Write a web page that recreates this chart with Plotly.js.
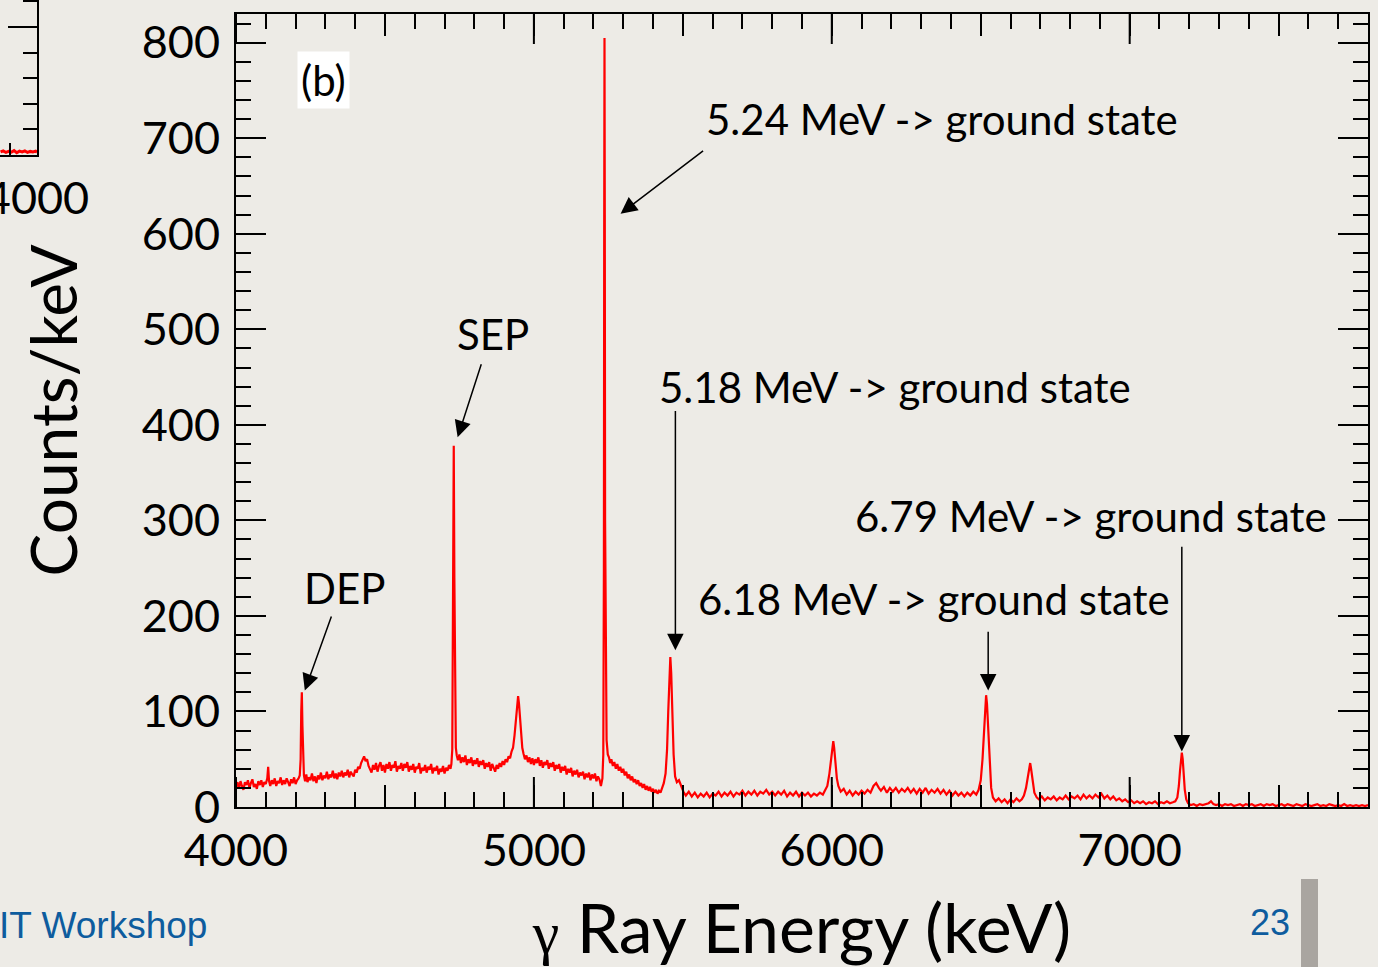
<!DOCTYPE html>
<html>
<head>
<meta charset="utf-8">
<script src="https://cdn.plot.ly/plotly-3.0.1.min.js"></script>
<style>
html,body{margin:0;padding:0;background:#edebe6;overflow:hidden;}
#chart{width:1378px;height:967px;}
</style>
</head>
<body>
<div id="chart"></div>
<script>
// ---- spectrum (b): gamma-ray energy (keV) vs counts/keV ----
const energyKeV = [
  4000,4005,4010,4015,4020,4025,4030,4035,4040,4045,4050,4055,
  4060,4065,4070,4075,4080,4085,4090,4095,4100,4105,4108,4111,
  4115,4120,4125,4130,4135,4140,4145,4150,4155,4160,4165,4170,
  4175,4180,4185,4190,4195,4200,4205,4210,4214,4217,4219,4221,
  4223,4225,4228,4232,4236,4240,4245,4250,4255,4260,4265,4270,
  4275,4280,4285,4290,4295,4300,4305,4310,4315,4320,4325,4330,
  4335,4340,4345,4350,4355,4360,4365,4370,4375,4380,4385,4390,
  4395,4400,4405,4410,4415,4420,4425,4430,4435,4440,4445,4450,
  4455,4460,4465,4470,4475,4480,4485,4490,4495,4500,4505,4510,
  4515,4520,4525,4530,4535,4540,4545,4550,4555,4560,4565,4570,
  4575,4580,4585,4590,4595,4600,4605,4610,4615,4620,4625,4630,
  4635,4640,4645,4650,4655,4660,4665,4670,4675,4680,4685,4690,
  4695,4700,4705,4710,4715,4720,4723,4726,4729,4731,4733,4735,
  4738,4741,4745,4750,4755,4760,4765,4770,4775,4780,4785,4790,
  4795,4800,4805,4810,4815,4820,4825,4830,4835,4840,4845,4850,
  4855,4860,4865,4870,4875,4880,4885,4890,4895,4900,4905,4910,
  4915,4920,4925,4930,4935,4940,4944,4947,4950,4953,4957,4961,
  4965,4970,4975,4980,4985,4990,4995,5000,5005,5010,5015,5020,
  5025,5030,5035,5040,5045,5050,5055,5060,5065,5070,5075,5080,
  5085,5090,5095,5100,5105,5110,5115,5120,5125,5130,5135,5140,
  5145,5150,5155,5160,5165,5170,5175,5180,5185,5190,5195,5200,
  5205,5210,5215,5220,5225,5230,5233,5235,5236,5237,5238,5239,
  5241,5244,5248,5252,5256,5260,5265,5270,5275,5280,5285,5290,
  5295,5300,5305,5310,5315,5320,5325,5330,5335,5340,5345,5350,
  5355,5360,5365,5370,5375,5380,5385,5390,5395,5400,5405,5410,
  5415,5420,5425,5430,5436,5442,5447,5451,5455,5458,5461,5465,
  5469,5474,5480,5487,5494,5502,5510,5520,5530,5540,5550,5560,
  5570,5580,5590,5600,5610,5620,5630,5640,5650,5660,5670,5680,
  5690,5700,5710,5720,5730,5740,5750,5760,5770,5780,5790,5800,
  5810,5820,5830,5840,5850,5860,5870,5880,5890,5900,5910,5920,
  5930,5940,5950,5960,5970,5978,5985,5992,5998,6002,6005,6008,
  6012,6017,6022,6030,6040,6050,6060,6070,6080,6090,6100,6110,
  6120,6130,6140,6149,6158,6165,6175,6185,6195,6205,6215,6225,
  6235,6245,6255,6265,6275,6285,6295,6305,6315,6325,6335,6345,
  6355,6365,6375,6385,6395,6405,6415,6425,6435,6445,6455,6465,
  6475,6485,6493,6500,6506,6511,6515,6518,6521,6525,6530,6535,
  6541,6550,6560,6570,6580,6590,6600,6610,6620,6630,6638,6645,
  6652,6658,6663,6666,6669,6674,6680,6688,6695,6705,6715,6725,
  6735,6745,6755,6765,6775,6785,6795,6805,6815,6825,6835,6845,
  6855,6865,6875,6885,6895,6905,6915,6925,6935,6945,6955,6965,
  6975,6985,6995,7005,7015,7025,7035,7045,7055,7065,7075,7085,
  7095,7105,7115,7125,7135,7145,7153,7160,7165,7169,7172,7175,
  7178,7181,7185,7190,7196,7205,7215,7225,7235,7245,7255,7265,
  7273,7281,7290,7300,7310,7320,7330,7340,7350,7360,7370,7380,
  7390,7400,7410,7420,7430,7440,7450,7460,7470,7480,7490,7500,
  7510,7520,7530,7540,7550,7560,7570,7580,7590,7600,7610,7620,
  7630,7640,7650,7660,7670,7680,7690,7700,7710,7720,7730,7740,
  7750,7760,7770,7780,7790,7800
];
const countsPerKeV = [
  21,26,19,27,22,18,26,23,28,20,25,29,
  21,24,19,27,23,28,21,26,24,30,42,27,
  22,28,24,30,22,27,25,31,23,28,24,30,
  26,22,29,25,31,24,28,30,33,50,100,120,
  85,45,33,27,34,26,31,28,35,27,32,25,
  33,29,36,28,33,30,37,29,34,31,38,30,
  35,29,36,32,38,31,36,33,39,31,37,34,
  32,39,36,42,40,46,49,53,48,50,43,40,
  36,44,39,46,37,43,47,38,44,36,45,40,
  47,38,44,41,48,37,43,40,46,38,45,41,
  47,37,43,39,45,36,42,40,46,35,41,38,
  44,36,42,39,45,35,41,38,43,34,40,37,
  43,35,41,38,44,40,45,60,210,378,240,110,
  62,54,49,55,46,52,47,54,44,50,46,52,
  43,49,45,51,42,48,44,49,40,46,42,47,
  38,45,41,37,44,40,46,42,48,44,50,47,
  53,51,58,62,75,92,108,116,108,95,78,62,
  56,50,54,47,52,45,51,44,50,46,52,43,
  49,41,47,44,49,40,46,42,47,38,44,40,
  45,36,42,38,43,34,40,36,41,32,38,34,
  39,31,36,33,37,29,35,31,36,28,34,30,
  35,27,32,29,22,30,55,250,600,805,620,300,
  120,70,55,52,46,50,43,47,40,45,38,42,
  36,40,33,37,30,34,28,32,26,29,24,28,
  22,25,20,24,18,22,17,21,16,19,15,18,
  14,17,15,20,25,35,60,100,140,157,140,95,
  55,32,26,28,22,16,12,16,11,15,10,14,
  11,15,10,14,12,16,11,15,12,16,11,15,
  13,17,12,16,13,17,12,16,14,18,13,16,
  12,16,13,17,11,15,12,16,11,15,12,15,
  11,14,12,15,13,18,22,35,52,65,69,62,
  45,30,22,16,19,13,17,12,16,13,17,14,
  18,15,22,25,20,17,21,15,20,16,20,15,
  19,16,20,15,19,14,19,15,20,14,18,15,
  19,14,18,13,17,12,16,12,15,11,15,12,
  16,13,18,28,50,85,110,117,108,80,45,20,
  10,6,9,5,8,4,8,5,9,6,8,12,
  20,32,43,46,40,26,15,10,8,11,7,10,
  8,11,7,10,8,12,8,11,9,12,8,13,
  9,12,9,13,10,14,9,12,8,11,7,9,
  6,8,5,7,4,6,4,6,3,5,4,6,
  3,5,4,6,4,5,6,10,22,38,50,57,
  50,35,18,8,4,2,3,1,3,2,3,4,
  6,3,2,3,1,3,2,3,1,2,3,1,
  3,2,3,1,2,3,1,3,2,3,1,2,
  3,1,3,2,1,3,2,1,3,2,1,2,
  3,1,2,1,3,2,1,2,1,3,1,2,
  1,2,1,2,1,2
];

// ---- cut-off neighbouring panel (a) at the left edge ----
const leftPanelEnergy = [3865,3875,3885,3895,3905,3915,3925,3935,3945,3955,3965,3975,3985,3995,4000];
const leftPanelCounts = [0.12,0.16,0.10,0.14,0.11,0.17,0.09,0.15,0.12,0.16,0.10,0.14,0.12,0.15,0.11];

// ---- axis ticks ----
const xTickVals  = [4000,4500,5000,5500,6000,6500,7000,7500];
const xTickText  = ['4000','','5000','','6000','','7000',''];
const xThousands = [4000,5000,6000,7000];
const yTickVals  = [0,100,200,300,400,500,600,700,800];
const yTickText  = ['0','100','200','300','400','500','600','700','800'];

// ---- texts ----
const panelTag   = '(b)';
const peakLabels = ['DEP','SEP','5.24 MeV -> ground state','5.18 MeV -> ground state',
                    '6.18 MeV -> ground state','6.79 MeV -> ground state'];
const xTitle = '<span style="font-family:\'Liberation Serif\';font-size:60px">γ</span> Ray Energy (keV)';
const yTitle = 'Counts/keV';
const footerLeft = 'IT Workshop';
const slideNumber = '23';

const FONT = 'Lato, "Noto Sans", sans-serif';
const BG = '#edebe6';
const Y_MAX = 830;

const traces = [
  {x: energyKeV, y: countsPerKeV, type:'scatter', mode:'lines',
   line:{color:'#ff0000', width:2.2}, xaxis:'x', yaxis:'y', hoverinfo:'skip'},
  {x: leftPanelEnergy, y: leftPanelCounts, type:'scatter', mode:'lines',
   line:{color:'#ff0000', width:3}, xaxis:'x2', yaxis:'y2', hoverinfo:'skip'}
];

// long ticks at every 1000 keV (bottom and top), measured in pixels from the frame
const thousandTicks = [];
xThousands.forEach(v => {
  thousandTicks.push({type:'line', xref:'x', yref:'y', x0:v, x1:v, ysizemode:'pixel',
                      yanchor:0, y0:0, y1:30, line:{color:'#000', width:2}});
  thousandTicks.push({type:'line', xref:'x', yref:'y', x0:v, x1:v, ysizemode:'pixel',
                      yanchor:Y_MAX, y0:0, y1:-30, line:{color:'#000', width:2}});
});

const arrowStyle = {showarrow:true, text:'', arrowhead:2, arrowsize:2.2, arrowwidth:1.5,
                    arrowcolor:'#000', axref:'x', ayref:'y', xref:'x', yref:'y', standoff:0};
const labelFont = {family:FONT, size:42, color:'#000'};

const layout = {
  width:1378, height:967,
  margin:{l:0, r:0, t:0, b:0},
  paper_bgcolor:BG, plot_bgcolor:BG,
  showlegend:false,
  font:{family:FONT, color:'#000'},
  xaxis:{
    domain:[236/1378, 1368/1378], anchor:'y',
    range:[4000,7800], tickmode:'array', tickvals:xTickVals, ticktext:xTickText,
    ticks:'inside', ticklen:22, tickwidth:2, tickcolor:'#000',
    minor:{dtick:100, tick0:4000, ticks:'inside', ticklen:15, tickwidth:2, tickcolor:'#000', showgrid:false},
    showline:true, linewidth:2, linecolor:'#000', mirror:'allticks',
    showgrid:false, zeroline:false,
    tickfont:{family:FONT, size:45, color:'#000'}, ticklabelstandoff:3,
    title:{text:xTitle, font:{family:FONT, size:68, color:'#000'}, standoff:33}
  },
  yaxis:{
    domain:[160/967, 953/967], anchor:'x',
    range:[0,Y_MAX], tickmode:'array', tickvals:yTickVals, ticktext:yTickText,
    ticks:'inside', ticklen:30, tickwidth:2, tickcolor:'#000',
    minor:{dtick:20, tick0:0, ticks:'inside', ticklen:15, tickwidth:2, tickcolor:'#000', showgrid:false},
    showline:true, linewidth:2, linecolor:'#000', mirror:'allticks',
    showgrid:false, zeroline:false,
    tickfont:{family:FONT, size:45, color:'#000'}, ticklabelstandoff:5,
    title:{text:yTitle, font:{family:FONT, size:64, color:'#000'}, standoff:43}
  },
  xaxis2:{
    domain:[0, 37/1378], anchor:'y2', range:[3863,4000],
    tickmode:'array', tickvals:[4000], ticktext:['4000'], ticklabeloverflow:'allow',
    ticks:'inside', ticklen:0, tickwidth:2, tickcolor:'#000',
    minor:{tickvals:[3900], ticks:'inside', ticklen:12, tickwidth:2, tickcolor:'#000', showgrid:false},
    showline:true, linewidth:2, linecolor:'#000', showgrid:false, zeroline:false,
    tickfont:{family:FONT, size:45, color:'#000'}, ticklabelstandoff:3
  },
  yaxis2:{
    domain:[812/967, 1], anchor:'x2', side:'right', range:[0,6.05],
    tickmode:'array', tickvals:[5], ticks:'inside', ticklen:29, tickwidth:2, tickcolor:'#000',
    minor:{dtick:1, tick0:0, ticks:'inside', ticklen:14, tickwidth:2, tickcolor:'#000', showgrid:false},
    showticklabels:false, showline:true, linewidth:2, linecolor:'#000',
    showgrid:false, zeroline:false
  },
  shapes:[
    {type:'rect', xref:'paper', yref:'paper', x0:1301/1378, x1:1318/1378, y0:0, y1:88/967,
     fillcolor:'#a9a5a0', line:{width:0}}
  ].concat(thousandTicks),
  annotations:[
    {xref:'x', yref:'y', x:4295, y:761, text:panelTag, showarrow:false, bgcolor:'#ffffff',
     font:labelFont, borderpad:3},
    {xref:'x', yref:'y', x:4365, y:229, text:peakLabels[0], showarrow:false, font:labelFont},
    {xref:'x', yref:'y', x:4862, y:495, text:peakLabels[1], showarrow:false, font:labelFont},
    {xref:'x', yref:'y', x:6371, y:720, text:peakLabels[2], showarrow:false, font:labelFont},
    {xref:'x', yref:'y', x:6213, y:440, text:peakLabels[3], showarrow:false, font:labelFont},
    {xref:'x', yref:'y', x:6344, y:218, text:peakLabels[4], showarrow:false, font:labelFont},
    {xref:'x', yref:'y', x:6870, y:305, text:peakLabels[5], showarrow:false, font:labelFont},
    Object.assign({x:4231, y:122, ax:4322, ay:201}, arrowStyle),
    Object.assign({x:4744, y:387, ax:4825, ay:465}, arrowStyle),
    Object.assign({x:5291, y:621, ax:5573, ay:688}, arrowStyle),
    Object.assign({x:5475, y:164, ax:5475, ay:416}, arrowStyle),
    Object.assign({x:6525, y:122, ax:6525, ay:185}, arrowStyle),
    Object.assign({x:7175, y:58, ax:7175, ay:274}, arrowStyle),
    {xref:'paper', yref:'paper', x:-3/1378, y:42/967, xanchor:'left', yanchor:'middle',
     text:footerLeft, showarrow:false,
     font:{family:'"Liberation Sans", Arial, sans-serif', size:37, color:'#0e5c9e'}},
    {xref:'paper', yref:'paper', x:1270/1378, y:45/967, xanchor:'center', yanchor:'middle',
     text:slideNumber, showarrow:false,
     font:{family:'"Liberation Sans", Arial, sans-serif', size:36, color:'#0e5c9e'}}
  ]
};

Plotly.newPlot('chart', traces, layout, {staticPlot:true, displayModeBar:false});
</script>
</body>
</html>
